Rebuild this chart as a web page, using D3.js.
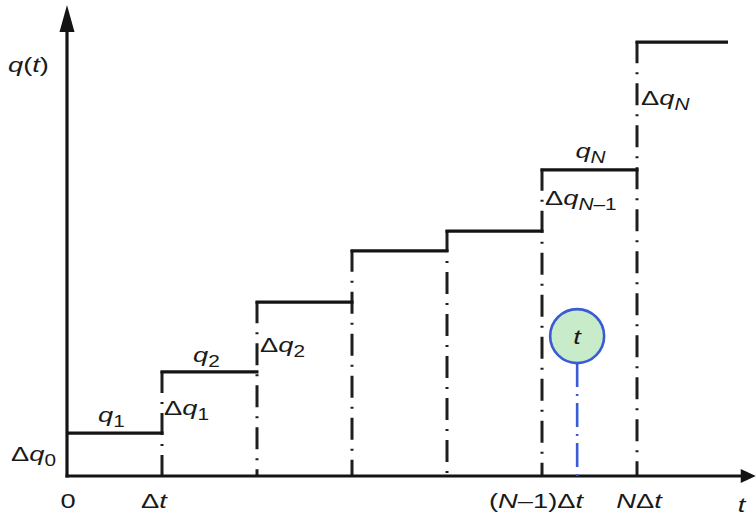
<!DOCTYPE html>
<html>
<head>
<meta charset="utf-8">
<script src="https://cdn.jsdelivr.net/npm/d3@7"></script>
<style>
  html, body { margin: 0; padding: 0; background: #fff; }
  svg { display: block; }
  text { font-family: "Liberation Sans", Arial, sans-serif; fill: #1a1a1a; }
</style>
</head>
<body>
<svg id="chart" width="756" height="518"></svg>
<script>
// Piecewise-constant q(t): one level per interval of width Δt
const stepIndex  = [0, 1, 2, 3, 4, 5, 6];
const stepLevels = [9.1, 22.1, 36.9, 47.8, 52.0, 65.0, 92.1];
// Time markers on the t axis (in units of Δt)
const tickPos    = [0, 1, 5, 6];
// Current time t inside the N-th interval, and the height of its bubble
const tNow       = 5.37;
const tBubble    = 29.7;

const W = 756, H = 518;
const svg = d3.select("#chart");

const x = d3.scaleLinear().domain([0, 6]).range([67, 637]);
const y = d3.scaleLinear().domain([0, 100]).range([476, 5]);

const ink = "#141414";
const blue = "#3a5bd6";

// --- dash-dot verticals at each step boundary (drawn under the steps) ---
svg.append("g").selectAll("line")
  .data(stepIndex.slice(1))
  .join("line")
  .attr("x1", d => x(d)).attr("x2", d => x(d))
  .attr("y1", d => y(stepLevels[d]) - 1).attr("y2", y(0))
  .attr("stroke", "#1e1e1e")
  .attr("stroke-width", 3)
  .attr("stroke-dasharray", "22,9,2,9");

// --- horizontal steps ---
svg.append("g").selectAll("line")
  .data(stepIndex)
  .join("line")
  .attr("x1", d => x(d) - (d === 0 ? 0 : 1.5))
  .attr("x2", d => x(d + 1) + (d === 6 ? -4 : 1.5))
  .attr("y1", d => y(stepLevels[d])).attr("y2", d => y(stepLevels[d]))
  .attr("stroke", ink)
  .attr("stroke-width", 3.2);

// --- axes with arrowheads ---
const xEnd = x(7.25), yTop = y(100);
svg.append("line")
  .attr("x1", x(0) - 1.5).attr("x2", xEnd - 10)
  .attr("y1", y(0)).attr("y2", y(0))
  .attr("stroke", ink).attr("stroke-width", 3.2);
svg.append("line")
  .attr("x1", x(0)).attr("x2", x(0))
  .attr("y1", y(0) + 1.5).attr("y2", yTop + 14)
  .attr("stroke", ink).attr("stroke-width", 3.2);
svg.append("path")
  .attr("d", `M${xEnd},${y(0)} L${xEnd - 15},${y(0) - 7} L${xEnd - 15},${y(0) + 7} Z`)
  .attr("fill", ink);
svg.append("path")
  .attr("d", `M${x(0)},${yTop} L${x(0) - 7.5},${yTop + 27} L${x(0) + 7.5},${yTop + 27} Z`)
  .attr("fill", ink);

// --- marker for the current time t ---
const bx = x(tNow), by = y(tBubble), br = 27;
svg.append("line")
  .attr("x1", bx).attr("x2", bx)
  .attr("y1", by + br).attr("y2", y(0))
  .attr("stroke", blue)
  .attr("stroke-width", 2.6)
  .attr("stroke-dasharray", "24,7,2,7");
svg.append("circle")
  .attr("cx", bx).attr("cy", by).attr("r", br)
  .attr("fill", "#c8ebca")
  .attr("stroke", blue)
  .attr("stroke-width", 2.6);

// --- labels (text is stretched horizontally like the original drawing) ---
const SX = 1.3;
function label(px, py, parts, anchor) {
  const t = svg.append("text")
    .attr("transform", `translate(${px},${py}) scale(${SX},1)`)
    .attr("text-anchor", anchor || "start")
    .attr("font-size", 21);
  let sub = false;
  parts.forEach(([s, kind]) => {
    const ts = t.append("tspan").text(s);
    const isSub = kind.includes("s");
    if (kind.includes("i")) ts.attr("font-style", "italic");
    if (isSub) ts.attr("font-size", 16);
    if (isSub && !sub) ts.attr("dy", 5);
    if (!isSub && sub) ts.attr("dy", -5);
    sub = isSub;
  });
  return t;
}

// axis names
label(x(0) - 59, 72, [["q", "i"], ["(", "n"], ["t", "i"], [")", "n"]]);
label(x(7.1), 512, [["t", "i"]], "middle");

// t-axis marks
const tickLabels = [
  [["0", "n"]],
  [["Δ", "n"], ["t", "i"]],
  [["(", "n"], ["N", "i"], ["–1)", "n"], ["Δ", "n"], ["t", "i"]],
  [["N", "i"], ["Δ", "n"], ["t", "i"]]
];
const tickShift = [1, -8, -6, 2];
tickPos.forEach((p, i) => label(x(p) + tickShift[i], 508, tickLabels[i], "middle"));

// step values q_k over their intervals
label((x(0) + x(1)) / 2 - 3, y(stepLevels[0]) - 11, [["q", "i"], ["1", "s"]], "middle");
label((x(1) + x(2)) / 2 - 3, y(stepLevels[1]) - 10, [["q", "i"], ["2", "s"]], "middle");
label((x(5) + x(6)) / 2 + 1, y(stepLevels[5]) - 12, [["q", "i"], ["N", "si"]], "middle");

// increments Δq_k at the jumps
label(x(0) - 11, 461, [["Δ", "n"], ["q", "i"], ["0", "s"]], "end");
label(x(1) + 2, 415, [["Δ", "n"], ["q", "i"], ["1", "s"]]);
label(x(2) + 3, 352, [["Δ", "n"], ["q", "i"], ["2", "s"]]);
label(x(5) + 3, 205, [["Δ", "n"], ["q", "i"], ["N", "si"], ["–1", "s"]]);
label(x(6) + 4, 105, [["Δ", "n"], ["q", "i"], ["N", "si"]]);

// time inside the bubble
label(bx, by + 8, [["t", "i"]], "middle");
</script>
</body>
</html>
